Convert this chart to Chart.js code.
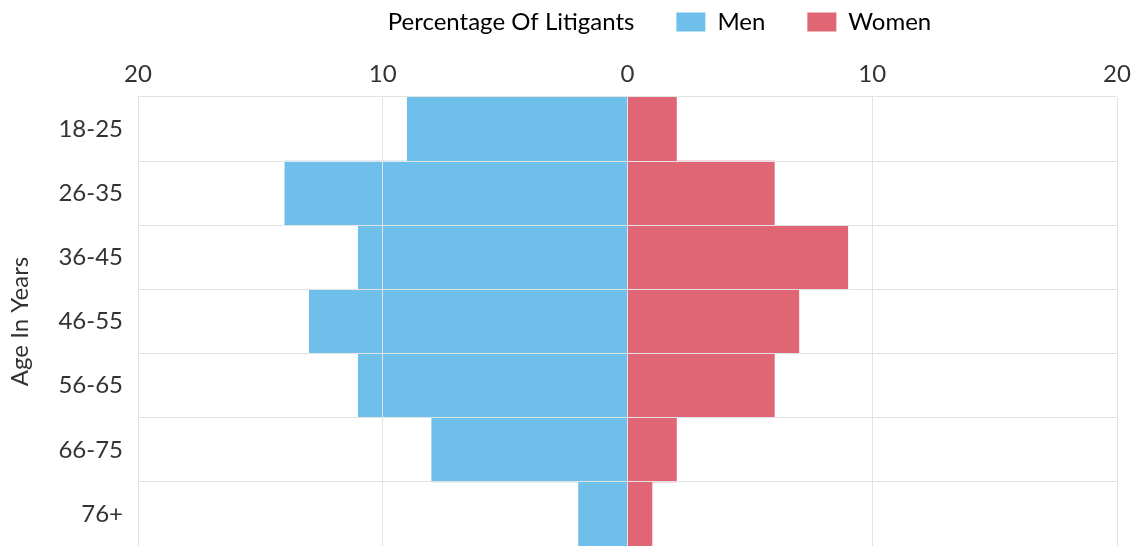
<!DOCTYPE html>
<html>
<head>
<meta charset="utf-8">
<script src="https://cdn.jsdelivr.net/npm/chart.js@4"></script>
<style>
html,body{margin:0;padding:0;background:#fff;}
#wrap{width:1134px;height:546px;position:relative;}
</style>
</head>
<body>
<div id="wrap"><canvas id="c"></canvas></div>
<script>
const categories = ['18-25', '26-35', '36-45', '46-55', '56-65', '66-75', '76+'];
const menValues = [9, 14, 11, 13, 11, 8, 2];
const womenValues = [2, 6, 9, 7, 6, 2, 1];
const seriesNames = ['Men', 'Women'];
const legendTitle = 'Percentage Of Litigants';
const yAxisTitle = 'Age In Years';
const xTicks = [-20, -10, 0, 10, 20];

const BLUE = '#6ec0ea';
const RED = '#e06675';
const TEXT = '#333333';
const GRID = '#e3e3e3';
const FONT = 'Lato';
const FS = 24;

const legendShift = {
  id: 'legendShift',
  beforeDraw(chart, args, opts) {
    const lg = chart.legend;
    if (lg && !lg._shifted) {
      const orig = lg.draw.bind(lg);
      lg.draw = function () {
        const c = chart.ctx;
        c.save();
        c.translate(opts.dx || 0, 0);
        orig();
        c.restore();
      };
      lg._shifted = true;
    }
  }
};

new Chart(document.getElementById('c'), {
  type: 'bar',
  data: {
    labels: categories,
    datasets: [
      { label: seriesNames[0], data: menValues.map(v => -v), backgroundColor: BLUE, borderWidth: 0 },
      { label: seriesNames[1], data: womenValues, backgroundColor: RED, borderWidth: 0 }
    ]
  },
  plugins: [legendShift],
  options: {
    indexAxis: 'y',
    responsive: true,
    maintainAspectRatio: false,
    animation: false,
    layout: { padding: { top: -32, bottom: 0, left: 0, right: 0 } },
    datasets: { bar: { barPercentage: 1, categoryPercentage: 1 } },
    scales: {
      x: {
        position: 'top',
        stacked: true,
        min: -20,
        max: 20,
        afterBuildTicks(scale) { scale.ticks = xTicks.map(v => ({ value: v })); },
        afterFit(scale) { scale.height = 53; scale.paddingRight = 17; scale.paddingLeft = 0; },
        ticks: {
          color: TEXT,
          font: { family: FONT, size: FS },
          padding: 8,
          maxRotation: 0,
          callback: v => String(Math.abs(v))
        },
        grid: { color: GRID, drawTicks: false, z: 1 },
        border: { display: false }
      },
      y: {
        stacked: true,
        afterFit(scale) { scale.width = 138; scale.paddingTop = 0; scale.paddingBottom = 0; },
        ticks: { color: TEXT, font: { family: FONT, size: FS }, padding: 15 },
        grid: { color: GRID, drawTicks: false, offset: true, z: 1 },
        border: { display: false },
        title: { display: true, text: yAxisTitle, color: TEXT, font: { family: FONT, size: FS }, padding: { top: 6, bottom: 24 } }
      }
    },
    plugins: {
      tooltip: { enabled: false },
      legendShift: { dx: 72 },
      legend: {
        position: 'top',
        align: 'center',
        labels: {
          color: TEXT,
          font: { family: FONT, size: FS },
          boxWidth: 29,
          boxHeight: 19,
          padding: 42,
          generateLabels(chart) {
            const items = [{ text: legendTitle, fillStyle: 'rgba(0,0,0,0)', strokeStyle: 'rgba(0,0,0,0)', lineWidth: 0, hidden: false, datasetIndex: -1 }];
            chart.data.datasets.forEach((ds, i) => items.push({
              text: ds.label, fillStyle: ds.backgroundColor, strokeStyle: ds.backgroundColor, lineWidth: 0, hidden: false, datasetIndex: i
            }));
            return items;
          }
        },
        onClick: () => {}
      }
    }
  }
});
</script>
</body>
</html>
